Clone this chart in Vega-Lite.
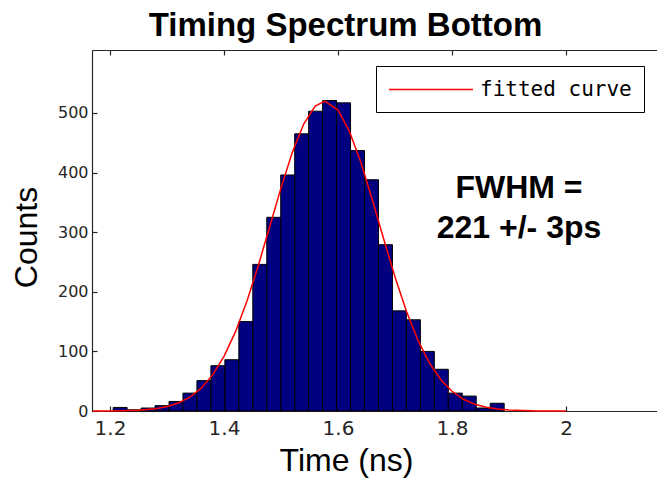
{
  "$schema": "https://vega.github.io/schema/vega-lite/v6.json",
  "width": 565,
  "height": 361,
  "autosize": {"type": "none"},
  "padding": {"left": 92, "top": 50, "right": 0, "bottom": 67},
  "background": "white",
  "title": {"text": "Timing Spectrum Bottom", "font": "Liberation Sans", "fontSize": 33, "fontWeight": "bold", "color": "#000000", "dx": -29, "offset": 6},
  "config": {
    "view": {"stroke": null},
    "axis": {"domainColor": "#262626", "tickColor": "#262626", "labelColor": "#262626", "labelFont": "DejaVu Sans", "titleFont": "Liberation Sans", "titleFontWeight": "normal", "titleColor": "#000000", "grid": false, "tickSize": -5, "domainWidth": 1.2, "tickWidth": 1.2}
  },
  "datasets": {
    "bins": [
      {"start": 1.2055, "end": 1.2300, "count": 6},
      {"start": 1.2300, "end": 1.2545, "count": 2},
      {"start": 1.2545, "end": 1.2790, "count": 5},
      {"start": 1.2790, "end": 1.3035, "count": 9},
      {"start": 1.3035, "end": 1.3280, "count": 16},
      {"start": 1.3280, "end": 1.3525, "count": 30},
      {"start": 1.3525, "end": 1.3770, "count": 51},
      {"start": 1.3770, "end": 1.4015, "count": 76},
      {"start": 1.4015, "end": 1.4260, "count": 86},
      {"start": 1.4260, "end": 1.4505, "count": 150},
      {"start": 1.4505, "end": 1.4750, "count": 246},
      {"start": 1.4750, "end": 1.4995, "count": 325},
      {"start": 1.4995, "end": 1.5240, "count": 396},
      {"start": 1.5240, "end": 1.5485, "count": 465},
      {"start": 1.5485, "end": 1.5730, "count": 503},
      {"start": 1.5730, "end": 1.5975, "count": 521},
      {"start": 1.5975, "end": 1.6220, "count": 517},
      {"start": 1.6220, "end": 1.6465, "count": 437},
      {"start": 1.6465, "end": 1.6710, "count": 388},
      {"start": 1.6710, "end": 1.6955, "count": 279},
      {"start": 1.6955, "end": 1.7200, "count": 168},
      {"start": 1.7200, "end": 1.7445, "count": 153},
      {"start": 1.7445, "end": 1.7690, "count": 100},
      {"start": 1.7690, "end": 1.7935, "count": 70},
      {"start": 1.7935, "end": 1.8180, "count": 30},
      {"start": 1.8180, "end": 1.8425, "count": 25},
      {"start": 1.8425, "end": 1.8670, "count": 5},
      {"start": 1.8670, "end": 1.8915, "count": 13}
    ],
    "fit": [
      {"t": 1.17, "fit": 0.05},
      {"t": 1.20, "fit": 0.2},
      {"t": 1.25, "fit": 1.4},
      {"t": 1.28, "fit": 3.9},
      {"t": 1.30, "fit": 7.4},
      {"t": 1.32, "fit": 13.4},
      {"t": 1.34, "fit": 23.1},
      {"t": 1.36, "fit": 38.3},
      {"t": 1.38, "fit": 60.6},
      {"t": 1.40, "fit": 91.7},
      {"t": 1.42, "fit": 132.7},
      {"t": 1.44, "fit": 183.8},
      {"t": 1.46, "fit": 243.6},
      {"t": 1.48, "fit": 308.8},
      {"t": 1.50, "fit": 374.4},
      {"t": 1.52, "fit": 434.4},
      {"t": 1.54, "fit": 482.0},
      {"t": 1.56, "fit": 511.7},
      {"t": 1.577, "fit": 520.0},
      {"t": 1.60, "fit": 505.0},
      {"t": 1.62, "fit": 469.3},
      {"t": 1.64, "fit": 417.4},
      {"t": 1.66, "fit": 355.0},
      {"t": 1.68, "fit": 288.9},
      {"t": 1.70, "fit": 224.9},
      {"t": 1.72, "fit": 167.5},
      {"t": 1.74, "fit": 119.3},
      {"t": 1.76, "fit": 81.3},
      {"t": 1.78, "fit": 53.0},
      {"t": 1.80, "fit": 33.1},
      {"t": 1.82, "fit": 19.7},
      {"t": 1.84, "fit": 11.3},
      {"t": 1.86, "fit": 6.2},
      {"t": 1.88, "fit": 3.2},
      {"t": 1.90, "fit": 1.6},
      {"t": 1.95, "fit": 0.2},
      {"t": 2.00, "fit": 0.03}
    ]
  },
  "layer": [
    {
      "data": {"name": "bins"},
      "mark": {"type": "bar", "fill": "#000080", "stroke": "#000000", "strokeWidth": 1},
      "encoding": {
        "x": {"field": "start", "type": "quantitative",
          "scale": {"domain": [1.1684, 2.1596], "nice": false, "zero": false},
          "axis": {"orient": "bottom", "values": [1.2, 1.4, 1.6, 1.8, 2.0], "format": ".1~f", "labelFontSize": 20, "labelPadding": 12, "title": "Time (ns)", "titleFontSize": 32, "titleX": 254, "titleY": 59, "titleBaseline": "alphabetic", "titleAnchor": "middle"}},
        "x2": {"field": "end"},
        "y": {"field": "count", "type": "quantitative",
          "scale": {"domain": [0, 605.7], "nice": false},
          "axis": {"values": [0, 100, 200, 300, 400, 500], "labelFontSize": 16, "labelPadding": 9, "title": "Counts", "titleFontSize": 32, "titleX": -66, "titleY": 187, "titleAlign": "center", "titleBaseline": "middle", "titleAngle": -90}},
        "y2": {"datum": 0}
      }
    },
    {
      "data": {"name": "fit"},
      "mark": {"type": "line", "strokeWidth": 1.5},
      "encoding": {
        "x": {"field": "t", "type": "quantitative",
          "axis": {"orient": "top", "values": [1.2, 1.4, 1.6, 1.8, 2.0], "labels": false, "title": null}},
        "y": {"field": "fit", "type": "quantitative"},
        "color": {"datum": "fitted curve", "type": "nominal",
          "scale": {"range": ["#ff0000"]},
          "legend": {"title": null, "orient": "none", "legendX": 284, "legendY": 16, "direction": "vertical", "symbolType": "M-1,0H7", "symbolSize": 441, "symbolStrokeWidth": 1.5, "labelFont": "DejaVu Sans Mono", "labelFontSize": 21, "labelColor": "#000000", "labelOffset": 69, "padding": 12, "strokeColor": "#000000", "fillColor": "#ffffff"}}
      }
    },
    {
      "data": {"values": [{"note": "FWHM"}]},
      "mark": {"type": "text", "font": "Liberation Sans", "fontWeight": "bold", "fontSize": 32, "align": "center", "baseline": "middle", "lineHeight": 40, "color": "#000000"},
      "encoding": {
        "x": {"datum": 1.9175, "type": "quantitative", "axis": null},
        "y": {"datum": 374, "type": "quantitative"},
        "text": {"value": ["FWHM =", "221 +/- 3ps"]}
      }
    }
  ],
  "resolve": {"axis": {"x": "independent"}}
}
